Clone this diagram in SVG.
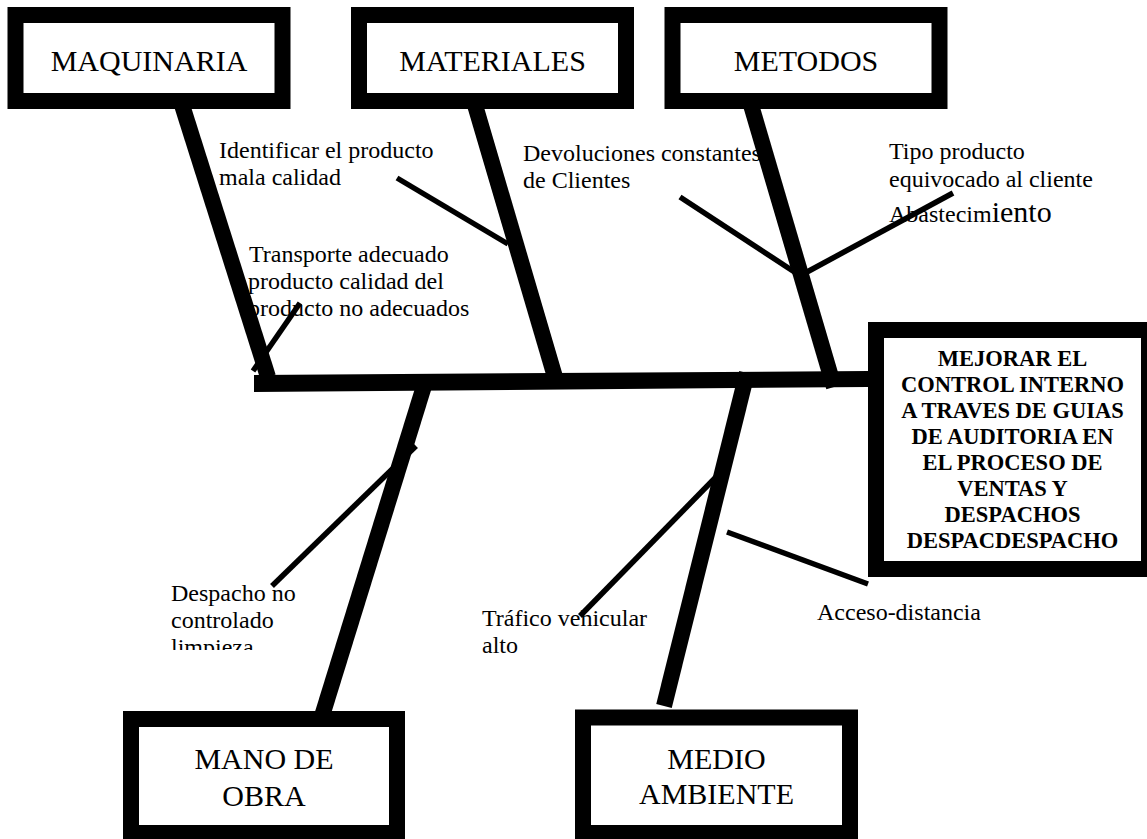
<svg xmlns="http://www.w3.org/2000/svg" width="1147" height="839" viewBox="0 0 1147 839">
<style>
.box{fill:#fff;stroke:#000;stroke-width:16}
.cat{font-family:"Liberation Serif","Times New Roman",serif;font-size:30px;fill:#000;text-anchor:middle}
.lbl{font-family:"Liberation Serif","Times New Roman",serif;font-size:24px;fill:#000}
.ttl{font-family:"Liberation Serif","Times New Roman",serif;font-size:22.5px;font-weight:bold;fill:#000;text-anchor:middle}
.bone{stroke:#000;stroke-width:16;fill:none}
.sub{stroke:#000;stroke-width:5.5;fill:none}
</style>
<defs>
<clipPath id="clipDesp"><rect x="150" y="560" width="200" height="90"/></clipPath>
</defs>
<rect width="1147" height="839" fill="#fff"/>
<g id="causes">
<text class="lbl" x="219" y="158">Identificar el producto</text>
<text class="lbl" x="219" y="185">mala calidad</text>
<text class="lbl" x="249" y="262">Transporte adecuado</text>
<text class="lbl" x="248" y="289">producto calidad del</text>
<text class="lbl" x="248" y="316">producto no adecuados</text>
<text class="lbl" x="523" y="161">Devoluciones constantes</text>
<text class="lbl" x="523" y="188">de Clientes</text>
<text class="lbl" x="889" y="159">Tipo producto</text>
<text class="lbl" x="889" y="187">equivocado al cliente</text>
<text class="lbl" x="889" y="222">Abastecim<tspan font-size="30">iento</tspan></text>
<g clip-path="url(#clipDesp)">
<text class="lbl" x="171" y="601">Despacho no</text>
<text class="lbl" x="171" y="628">controlado</text>
<text class="lbl" x="171" y="655">limpieza</text>
</g>
<text class="lbl" x="482" y="626">Tráfico vehicular</text>
<text class="lbl" x="482" y="653">alto</text>
<text class="lbl" x="817" y="620">Acceso-distancia</text>
</g>
<g id="connectors">
<polygon points="254,375 868,371 868,387 254,392" fill="#000"/>
<line class="bone" x1="182" y1="105" x2="268" y2="377"/>
<line class="bone" x1="475" y1="105" x2="555" y2="377"/>
<line class="bone" x1="751" y1="105" x2="834" y2="387"/>
<line class="bone" x1="424" y1="386" x2="322" y2="716"/>
<line class="bone" x1="747" y1="373" x2="664" y2="706"/>
<line class="sub" x1="253" y1="371" x2="300" y2="303"/>
<line class="sub" x1="397" y1="178" x2="508" y2="244"/>
<line class="sub" x1="680" y1="197" x2="796" y2="273"/>
<line class="sub" x1="807" y1="272" x2="953" y2="193"/>
<line class="sub" x1="272" y1="586" x2="416" y2="446"/>
<line class="sub" x1="716" y1="477" x2="580" y2="616"/>
<line class="sub" x1="727" y1="532" x2="868" y2="584"/>
</g>
<g id="maquinaria">
<rect class="box" x="15.5" y="15" width="267" height="86"/>
<text class="cat" x="149" y="71">MAQUINARIA</text>
</g>
<g id="materiales">
<rect class="box" x="359" y="15" width="267" height="86"/>
<text class="cat" x="492.5" y="71">MATERIALES</text>
</g>
<g id="metodos">
<rect class="box" x="672.5" y="15" width="267" height="86"/>
<text class="cat" x="806" y="71">METODOS</text>
</g>
<g id="efecto">
<rect class="box" x="876" y="330" width="273" height="239"/>
<text class="ttl" x="1012.5" y="366">MEJORAR EL</text>
<text class="ttl" x="1012.5" y="392">CONTROL INTERNO</text>
<text class="ttl" x="1012.5" y="418">A TRAVES DE GUIAS</text>
<text class="ttl" x="1012.5" y="444">DE AUDITORIA EN</text>
<text class="ttl" x="1012.5" y="470">EL PROCESO DE</text>
<text class="ttl" x="1012.5" y="496">VENTAS Y</text>
<text class="ttl" x="1012.5" y="522">DESPACHOS</text>
<text class="ttl" x="1012.5" y="548">DESPACDESPACHO</text>
</g>
<g id="mano-de-obra">
<rect class="box" x="131" y="719" width="266" height="114"/>
<text class="cat" x="264" y="769">MANO DE</text>
<text class="cat" x="264" y="806">OBRA</text>
</g>
<g id="medio-ambiente">
<rect class="box" x="583" y="717.5" width="267" height="115.5"/>
<text class="cat" x="716.5" y="769">MEDIO</text>
<text class="cat" x="716.5" y="804">AMBIENTE</text>
</g>
</svg>
